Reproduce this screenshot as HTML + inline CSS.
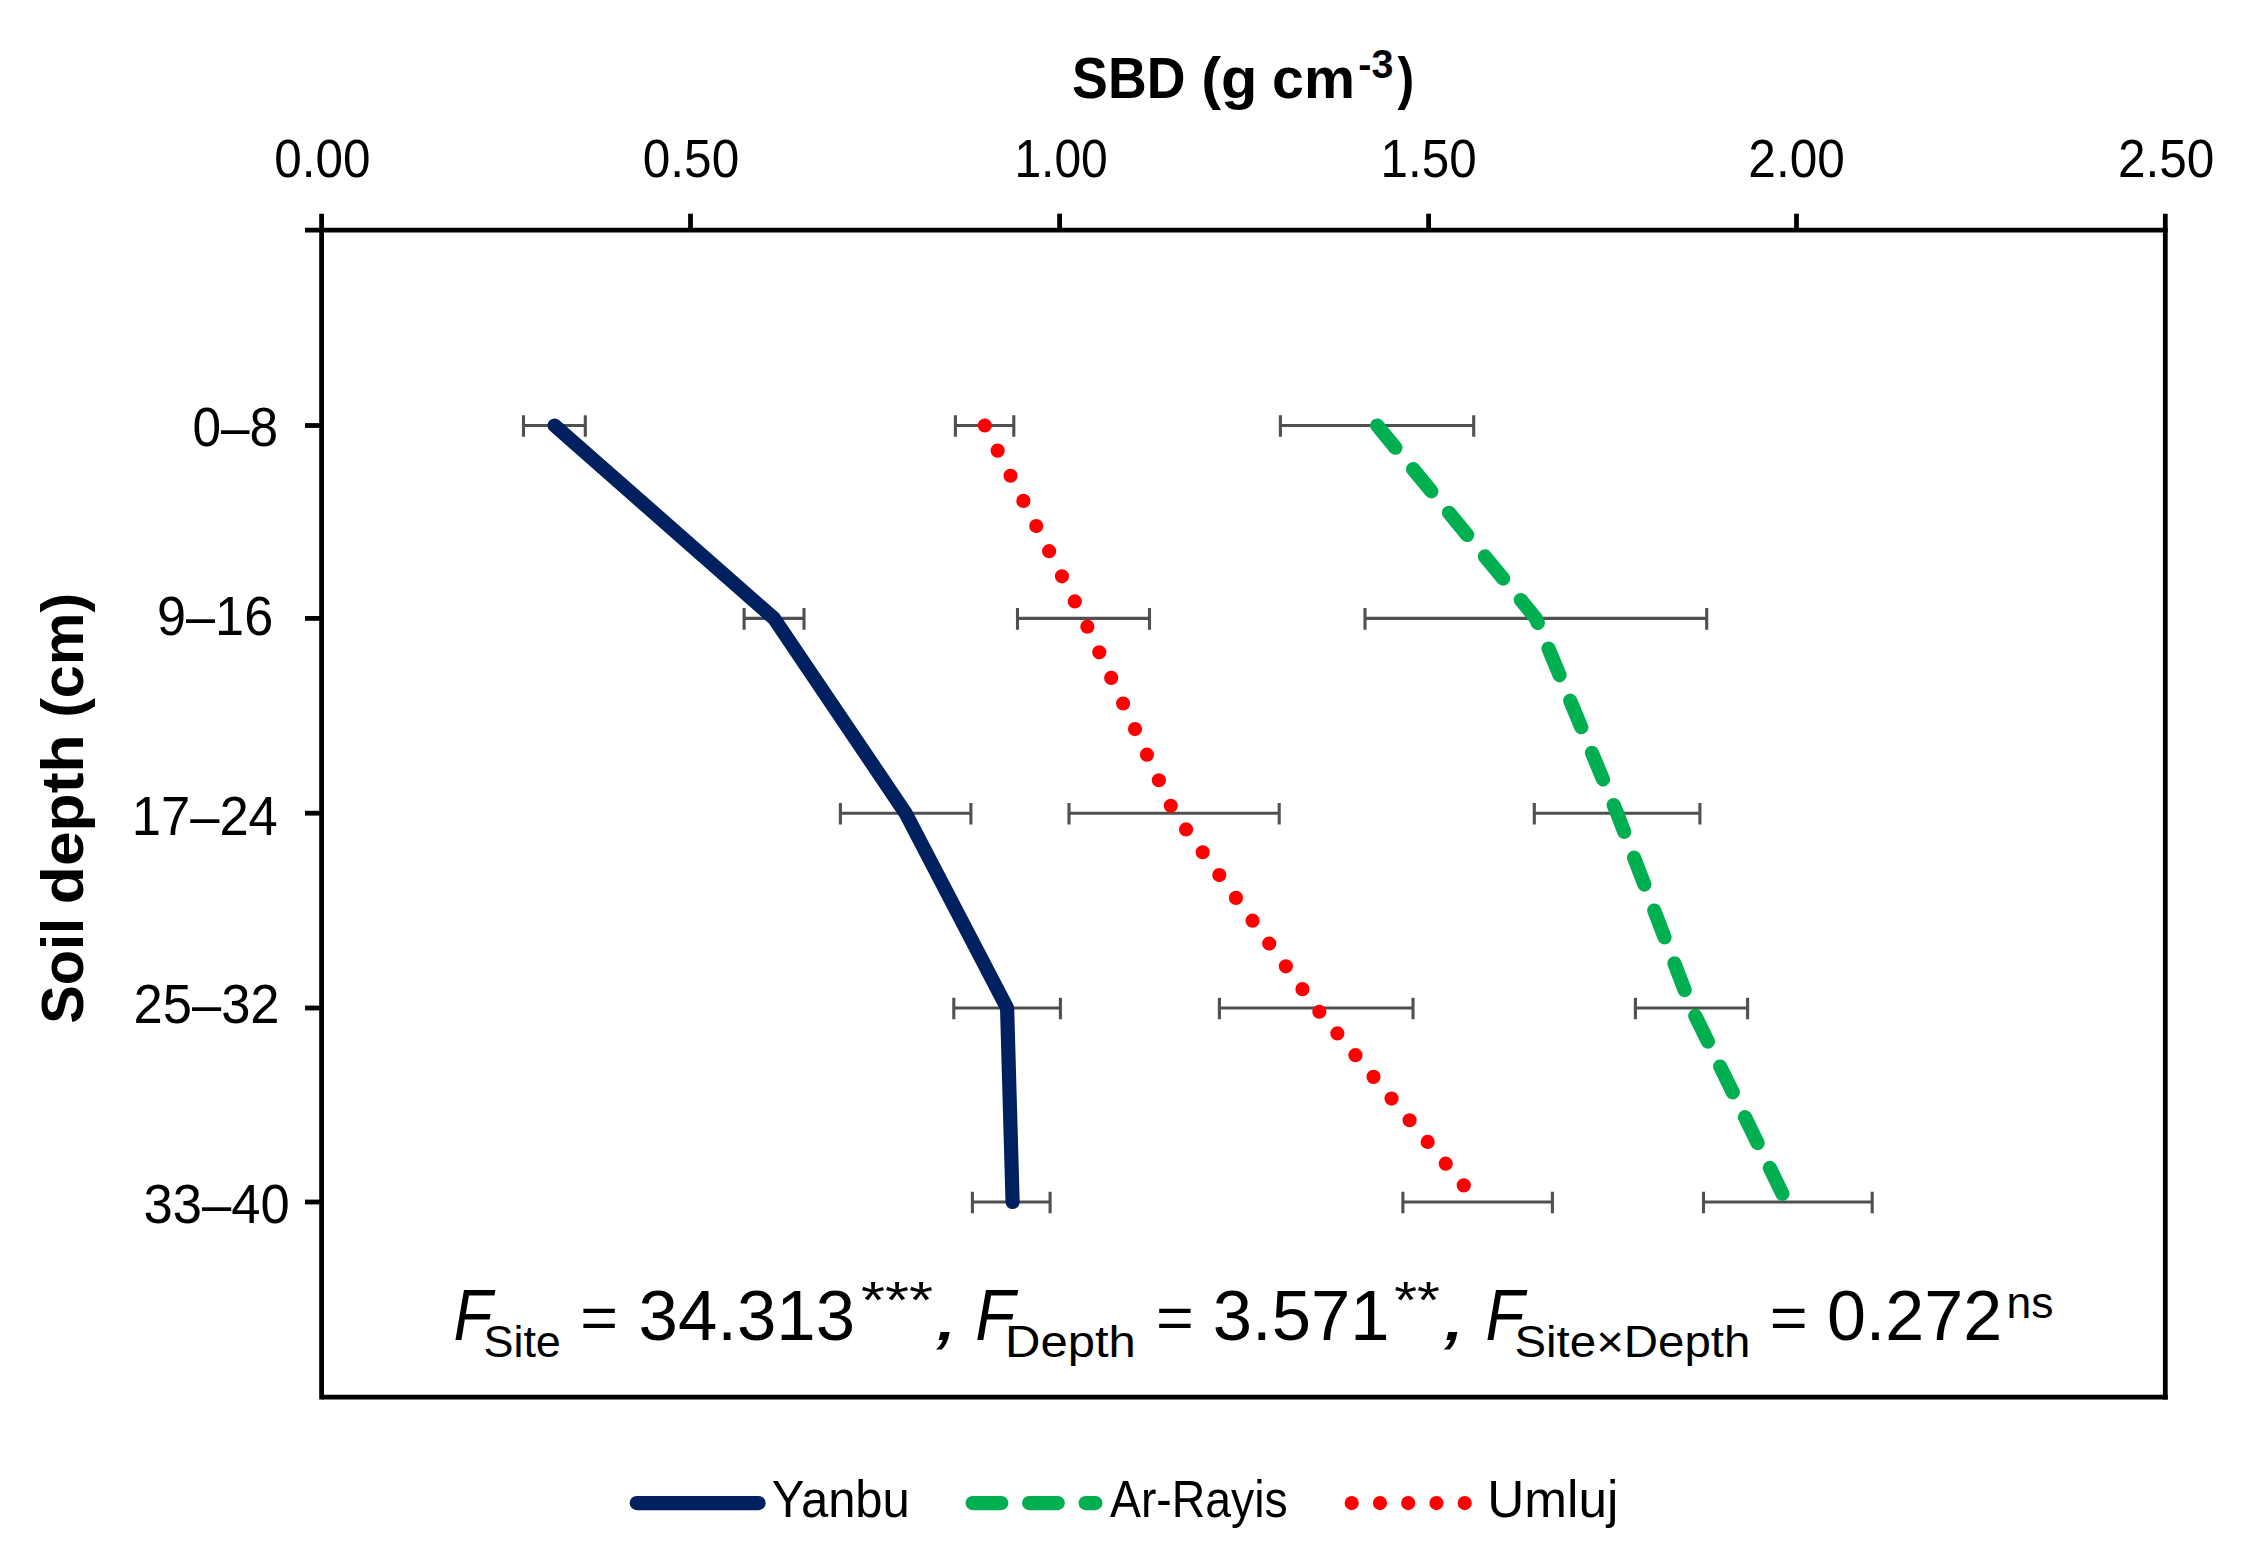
<!DOCTYPE html>
<html lang="en"><head><meta charset="utf-8"><title>SBD by soil depth</title>
<style>html,body{margin:0;padding:0;background:#fff}body{width:2253px;height:1567px;overflow:hidden}svg{display:block}text{font-family:"Liberation Sans",sans-serif;fill:#000}</style></head><body>
<svg width="2253" height="1567" viewBox="0 0 2253 1567">
<rect width="2253" height="1567" fill="#fff"/>
<g stroke="#000" stroke-width="4.8" fill="none" stroke-linecap="butt">
<line x1="305.0" y1="230.2" x2="2167.7" y2="230.2"/>
<line x1="321.6" y1="213.7" x2="321.6" y2="1399.5"/>
<line x1="321.6" y1="1397.1" x2="2167.7" y2="1397.1"/>
<line x1="2165.3" y1="213.7" x2="2165.3" y2="1399.5"/>
<line x1="690.5" y1="213.7" x2="690.5" y2="230.2"/>
<line x1="1059.6" y1="213.7" x2="1059.6" y2="230.2"/>
<line x1="1428.6" y1="213.7" x2="1428.6" y2="230.2"/>
<line x1="1796.5" y1="213.7" x2="1796.5" y2="230.2"/>
<line x1="305" y1="425.5" x2="321.6" y2="425.5"/>
<line x1="305" y1="618.4" x2="321.6" y2="618.4"/>
<line x1="305" y1="813.2" x2="321.6" y2="813.2"/>
<line x1="305" y1="1008.0" x2="321.6" y2="1008.0"/>
<line x1="305" y1="1202.0" x2="321.6" y2="1202.0"/>
</g>
<g stroke="#505050" stroke-width="3.1" fill="none">
<path d="M523.5 415.2V436.8M523.5 425.5H585.3M585.3 415.2V436.8"/>
<path d="M744.1 608.1V629.7M744.1 618.4H804.0M804.0 608.1V629.7"/>
<path d="M840.4 802.9V824.5M840.4 813.2H970.9M970.9 802.9V824.5"/>
<path d="M953.8 997.7V1019.3M953.8 1008.0H1060.4M1060.4 997.7V1019.3"/>
<path d="M972.4 1191.7V1213.3M972.4 1202.0H1050.1M1050.1 1191.7V1213.3"/>
<path d="M955.4 415.2V436.8M955.4 425.5H1013.8M1013.8 415.2V436.8"/>
<path d="M1017.5 608.1V629.7M1017.5 618.4H1149.5M1149.5 608.1V629.7"/>
<path d="M1069.0 802.9V824.5M1069.0 813.2H1279.2M1279.2 802.9V824.5"/>
<path d="M1219.4 997.7V1019.3M1219.4 1008.0H1413.0M1413.0 997.7V1019.3"/>
<path d="M1402.9 1191.7V1213.3M1402.9 1202.0H1552.4M1552.4 1191.7V1213.3"/>
<path d="M1280.4 415.2V436.8M1280.4 425.5H1473.7M1473.7 415.2V436.8"/>
<path d="M1365.0 608.1V629.7M1365.0 618.4H1706.7M1706.7 608.1V629.7"/>
<path d="M1534.3 802.9V824.5M1534.3 813.2H1699.9M1699.9 802.9V824.5"/>
<path d="M1635.4 997.7V1019.3M1635.4 1008.0H1747.6M1747.6 997.7V1019.3"/>
<path d="M1703.5 1191.7V1213.3M1703.5 1202.0H1872.2M1872.2 1191.7V1213.3"/>
</g>
<polyline points="554.6,425.5 774.0,618.4 905.6,813.2 1007.1,1008.0 1012.6,1202.0" fill="none" stroke="#002060" stroke-width="14.2" stroke-linecap="round" stroke-linejoin="round"/>
<polyline points="984.8,425.5 1083.5,618.4 1174.2,813.2 1316.2,1008.0 1477.6,1202.0" fill="none" stroke="#ff0000" stroke-width="14.2" stroke-linecap="round" stroke-linejoin="round" stroke-dasharray="0 28.23"/>
<polyline points="1377.2,425.5 1535.9,618.4 1617.1,813.2 1691.5,1008.0 1786.5,1202.0" fill="none" stroke="#00b050" stroke-width="14.2" stroke-linecap="round" stroke-linejoin="round" stroke-dasharray="28.7 27.8"/>
<line x1="636.7" y1="1503.1" x2="758.6" y2="1503.1" stroke="#002060" stroke-width="14.2" stroke-linecap="round"/>
<line x1="972.6" y1="1503.1" x2="1095.4" y2="1503.1" stroke="#00b050" stroke-width="14.2" stroke-linecap="round" stroke-dasharray="28.7 27.8"/>
<line x1="1351.7" y1="1503.1" x2="1470" y2="1503.1" stroke="#ff0000" stroke-width="14.2" stroke-linecap="round" stroke-dasharray="0 28.25"/>
<g id="legend-labels">
<text x="771.85" y="1517.00" font-size="52.0" textLength="138.03" lengthAdjust="spacingAndGlyphs">Yanbu</text>
<text x="1110.00" y="1517.00" font-size="52.0" textLength="177.64" lengthAdjust="spacingAndGlyphs">Ar-Rayis</text>
<text x="1487.30" y="1517.00" font-size="52.0" textLength="131.06" lengthAdjust="spacingAndGlyphs">Umluj</text>
</g>
<g id="x-tick-labels">
<text x="274.30" y="176.60" font-size="53.0" textLength="96.22" lengthAdjust="spacingAndGlyphs">0.00</text>
<text x="642.80" y="176.60" font-size="53.0" textLength="96.42" lengthAdjust="spacingAndGlyphs">0.50</text>
<text x="1014.45" y="176.60" font-size="53.0" textLength="93.35" lengthAdjust="spacingAndGlyphs">1.00</text>
<text x="1380.55" y="176.60" font-size="53.0" textLength="96.05" lengthAdjust="spacingAndGlyphs">1.50</text>
<text x="1748.35" y="176.60" font-size="53.0" textLength="96.43" lengthAdjust="spacingAndGlyphs">2.00</text>
<text x="2117.90" y="176.60" font-size="53.0" textLength="96.42" lengthAdjust="spacingAndGlyphs">2.50</text>
</g>
<g id="y-tick-labels">
<text x="192.40" y="446.00" font-size="55.0" textLength="85.72" lengthAdjust="spacingAndGlyphs">0–8</text>
<text x="157.00" y="634.50" font-size="55.0" textLength="116.20" lengthAdjust="spacingAndGlyphs">9–16</text>
<text x="131.75" y="834.70" font-size="55.0" textLength="146.06" lengthAdjust="spacingAndGlyphs">17–24</text>
<text x="133.50" y="1023.00" font-size="55.0" textLength="146.06" lengthAdjust="spacingAndGlyphs">25–32</text>
<text x="143.60" y="1222.90" font-size="55.0" textLength="146.06" lengthAdjust="spacingAndGlyphs">33–40</text>
</g>
<text id="x-title"><tspan x="1072.10" y="97.80" font-size="58.0" textLength="113.30" lengthAdjust="spacingAndGlyphs" font-weight="bold">SBD</tspan> <tspan x="1201.15" y="97.80" font-size="58.0" textLength="56.22" lengthAdjust="spacingAndGlyphs" font-weight="bold">(g</tspan> <tspan x="1272.10" y="97.80" font-size="58.0" textLength="82.94" lengthAdjust="spacingAndGlyphs" font-weight="bold">cm</tspan><tspan x="1358.30" y="77.80" font-size="41.0" textLength="35.12" lengthAdjust="spacingAndGlyphs" font-weight="bold">-3</tspan><tspan x="1397.40" y="97.80" font-size="58.0" textLength="16.80" lengthAdjust="spacingAndGlyphs" font-weight="bold">)</tspan></text>
<text id="y-title" transform="translate(83.0,1100) rotate(-90)"><tspan x="76.20" y="0.00" font-size="58.5" textLength="105.78" lengthAdjust="spacingAndGlyphs" font-weight="bold">Soil</tspan> <tspan x="195.80" y="0.00" font-size="58.5" textLength="169.75" lengthAdjust="spacingAndGlyphs" font-weight="bold">depth</tspan> <tspan x="382.15" y="0.00" font-size="58.5" textLength="125.08" lengthAdjust="spacingAndGlyphs" font-weight="bold">(cm)</tspan></text>
<text id="stats"><tspan x="453.50" y="1340.20" font-size="72.0" textLength="38.91" lengthAdjust="spacingAndGlyphs" font-style="italic">F</tspan><tspan x="483.40" y="1356.60" font-size="45.0" textLength="77.50" lengthAdjust="spacingAndGlyphs">Site</tspan> <tspan x="580.20" y="1337.90" font-size="59.0" textLength="37.76" lengthAdjust="spacingAndGlyphs">=</tspan> <tspan x="638.60" y="1340.20" font-size="71.0" textLength="216.52" lengthAdjust="spacingAndGlyphs">34.313</tspan><tspan x="860.95" y="1318.20" font-size="52.0" textLength="72.13" lengthAdjust="spacingAndGlyphs">***</tspan><tspan x="934.20" y="1340.20" font-size="74.0" textLength="26.64" lengthAdjust="spacingAndGlyphs" font-style="italic">,</tspan> <tspan x="975.20" y="1340.20" font-size="72.0" textLength="39.89" lengthAdjust="spacingAndGlyphs" font-style="italic">F</tspan><tspan x="1005.05" y="1356.60" font-size="45.0" textLength="130.85" lengthAdjust="spacingAndGlyphs">Depth</tspan> <tspan x="1156.10" y="1337.90" font-size="59.0" textLength="37.79" lengthAdjust="spacingAndGlyphs">=</tspan> <tspan x="1212.75" y="1340.20" font-size="71.0" textLength="176.75" lengthAdjust="spacingAndGlyphs">3.571</tspan><tspan x="1394.20" y="1318.20" font-size="52.0" textLength="45.75" lengthAdjust="spacingAndGlyphs">**</tspan><tspan x="1442.10" y="1340.20" font-size="74.0" textLength="26.64" lengthAdjust="spacingAndGlyphs" font-style="italic">,</tspan> <tspan x="1485.40" y="1340.20" font-size="72.0" textLength="38.91" lengthAdjust="spacingAndGlyphs" font-style="italic">F</tspan><tspan x="1514.45" y="1356.60" font-size="45.0" textLength="235.89" lengthAdjust="spacingAndGlyphs">Site×Depth</tspan> <tspan x="1769.80" y="1337.90" font-size="59.0" textLength="37.92" lengthAdjust="spacingAndGlyphs">=</tspan> <tspan x="1826.90" y="1340.20" font-size="71.0" textLength="175.31" lengthAdjust="spacingAndGlyphs">0.272</tspan><tspan x="2006.50" y="1317.60" font-size="45.0" textLength="46.90" lengthAdjust="spacingAndGlyphs">ns</tspan></text>
</svg></body></html>
